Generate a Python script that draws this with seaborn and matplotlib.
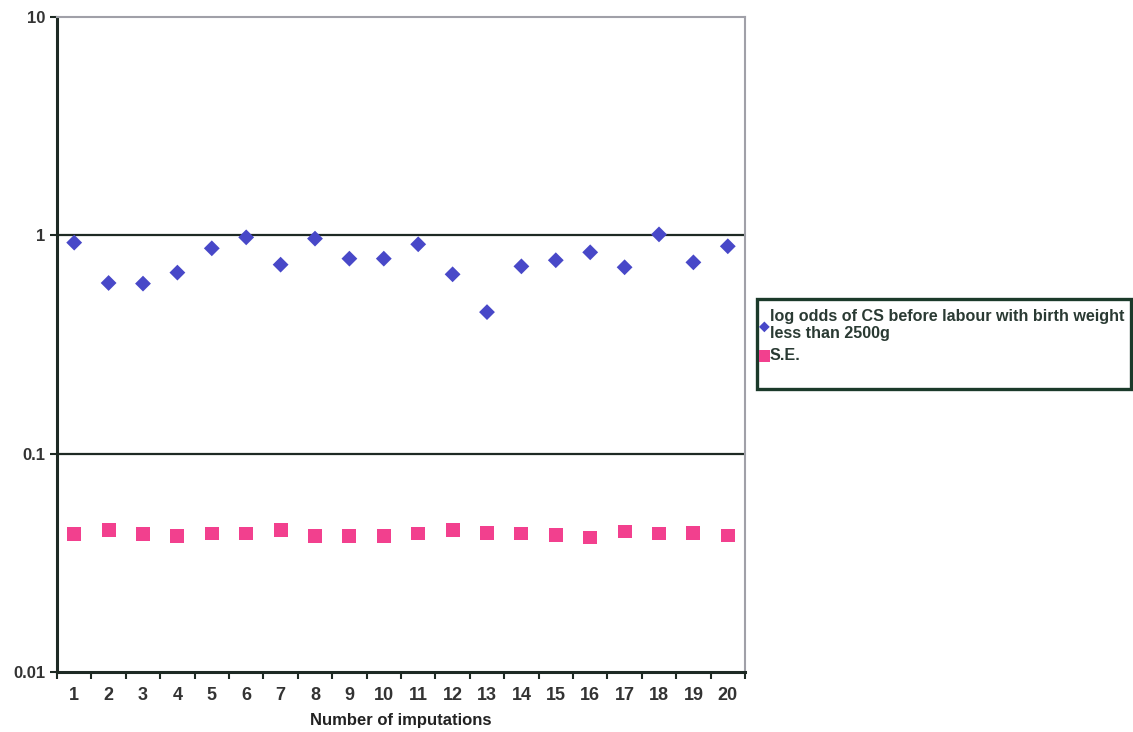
import matplotlib
matplotlib.use("Agg")
import matplotlib.pyplot as plt
from matplotlib.patches import Rectangle
import seaborn as sns
import pandas as pd
import numpy as np

# ----- datos -----
imputations = list(range(1, 21))
log_odds = [0.926, 0.605, 0.601, 0.675, 0.872, 0.979, 0.734, 0.966, 0.782, 0.782,
            0.910, 0.663, 0.445, 0.721, 0.769, 0.836, 0.714, 1.01, 0.752, 0.891]
se = [0.0428, 0.0447, 0.0430, 0.0420, 0.0431, 0.0431, 0.0448, 0.0420, 0.0420, 0.0420,
      0.0431, 0.0448, 0.0435, 0.0431, 0.0423, 0.0413, 0.0440, 0.0431, 0.0432, 0.0422]
label_odds = "log odds of CS before labour with birth weight\nless than 2500g"
label_se = "S.E."

df = pd.DataFrame({"imp": imputations, "odds": log_odds, "se": se})

sns.set_style("white")
plt.rcParams['font.family'] = ['Liberation Sans', 'DejaVu Sans']
plt.rcParams['font.weight'] = 'bold'

fig = plt.figure(figsize=(11.33, 7.32), dpi=100)
ax = fig.add_axes([57/1133, 1 - 672/732, (745-57)/1133, (672-17)/732])

sns.scatterplot(data=df, x="imp", y="odds", marker="D", s=65, color="#4848C8",
                edgecolor="none", ax=ax, label=label_odds, zorder=3)
sns.scatterplot(data=df, x="imp", y="se", marker="s", s=100, color="#F2408E",
                edgecolor="none", ax=ax, label=label_se, zorder=3)

ax.set_yscale("log")
ax.set_ylim(0.01, 10)
ax.set_xlim(0.5, 20.5)

# lineas de la cuadricula
for v in [0.1, 1]:
    ax.axhline(v, color="#1e2a24", lw=1.6, zorder=1)

ax.set_yticks([0.01, 0.1, 1, 10])
ax.set_yticklabels(["0.01", "0.1", "1", "10"], fontsize=12, fontweight="bold", color="#333333")
ax.yaxis.set_minor_locator(matplotlib.ticker.NullLocator())
ax.tick_params(axis="y", which="major", direction="out", length=5, width=1.5, color="#1e2a24", left=True)

ax.set_xticks(imputations)
ax.set_xticklabels([str(i) for i in imputations], fontsize=13, fontweight="bold", color="#333333")
ax.tick_params(axis="x", which="major", length=0, pad=11)
ax.set_xticks(np.arange(0.5, 21, 1), minor=True)
ax.tick_params(axis="x", which="minor", direction="out", length=5, width=1.5, color="#1e2a24", bottom=True)

ax.set_xlabel("Number of imputations", fontsize=12, fontweight="bold", labelpad=6, color="#222222")
ax.set_ylabel("")

for side in ["left", "bottom"]:
    ax.spines[side].set_color("#1e2a24")
    ax.spines[side].set_linewidth(2.2)
for side in ["top", "right"]:
    ax.spines[side].set_color("#a0a0a8")
    ax.spines[side].set_linewidth(1.5)

# leyenda con marco propio
ax.get_legend().remove()
h, l = ax.get_legend_handles_labels()
box = Rectangle((757/1133, 1 - 389/732), 374/1133, 90/732, transform=fig.transFigure,
                fill=False, edgecolor="#1b3a2a", lw=2.4)
fig.patches.append(box)
leg = fig.legend(h, l, loc="upper left", bbox_to_anchor=(755.5/1133, 1 - 306/732),
                 frameon=False, fontsize=11.6, handletextpad=0.0, handlelength=0.7,
                 borderpad=0.2, labelspacing=0.45, borderaxespad=0)
leg.legend_handles[0].set_sizes([30])
leg.legend_handles[1].set_sizes([70])
for t in leg.get_texts():
    t.set_fontweight("bold")
    t.set_color("#2a3a33")
    t.set_linespacing(1.15)

fig.savefig("out.png", dpi=100)
